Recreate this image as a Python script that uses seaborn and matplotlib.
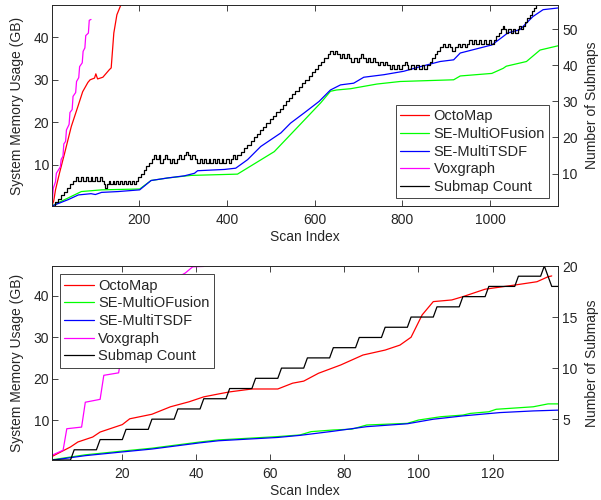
import numpy as np
import pandas as pd
import matplotlib
matplotlib.use("Agg")
import matplotlib.pyplot as plt
import seaborn as sns

# ---------------- data: top panel ----------------
top_octo_scan = [1, 5, 9, 18, 30, 45, 60, 71, 83, 88, 98, 101, 105, 117, 132, 136, 142, 149, 158, 170]
top_octo_gb = [0.4, 1.5, 4.1, 8.0, 12.8, 19.0, 23.7, 27.2, 29.4, 30.0, 30.4, 31.4, 30.2, 30.6, 32.4, 32.8, 41.0, 45.3, 47.6, 50.7]

top_ofus_scan = [1, 20, 38, 68, 114, 201, 227, 265, 318, 424, 508, 568, 614, 636, 650, 682, 742, 795, 917, 932, 1004, 1030, 1037, 1083, 1114, 1155]
top_ofus_gb = [0.3, 1.3, 2.2, 3.7, 4.1, 4.3, 6.3, 6.9, 7.5, 7.8, 13.1, 19.6, 24.6, 27.3, 27.6, 27.9, 29.0, 29.6, 30.0, 30.9, 31.5, 32.7, 33.2, 34.3, 37.0, 38.0]

top_tsdf_scan = [1, 38, 61, 90, 100, 114, 152, 201, 227, 265, 303, 326, 333, 394, 420, 447, 477, 500, 523, 545, 576, 610, 636, 659, 689, 712, 758, 803, 841, 886, 917, 932, 1004, 1030, 1040, 1068, 1098, 1121, 1155]
top_tsdf_gb = [0.3, 1.8, 2.9, 3.2, 3.0, 3.5, 3.7, 4.1, 6.3, 6.9, 7.4, 8.0, 8.6, 8.9, 9.2, 11.2, 14.3, 15.9, 17.5, 19.8, 22.2, 24.9, 27.6, 28.8, 29.2, 30.6, 31.2, 32.0, 33.1, 34.3, 34.7, 36.3, 38.2, 40.2, 41.0, 41.8, 44.9, 46.5, 46.9]

top_voxg_scan = [1, 4, 9, 11, 20, 22, 26, 28, 32, 34, 40, 42, 47, 49, 55, 57, 62, 64, 70, 72, 76, 78, 84, 86, 90]
top_voxg_gb = [0.4, 4.5, 6.0, 8.0, 9.5, 11.3, 12.0, 14.9, 15.5, 18.2, 19.5, 22.3, 23.0, 26.1, 27.0, 29.6, 30.5, 33.1, 34.0, 36.7, 37.5, 40.4, 41.0, 44.0, 44.2]

# submap count: scan where the count changes, and the new count
top_sub_scan = [1, 8, 15, 22, 29, 36, 43, 50,
                56, 61, 67, 72, 78, 83, 89, 93, 99, 104, 110, 115, 119, 122, 126, 130, 134, 139, 143, 148, 152, 157, 161, 166, 170, 175, 179, 184, 188,
                192, 198, 204, 210, 216, 222, 228,
                234, 239, 244, 248, 254, 259, 264, 270, 275, 280, 286, 291, 296, 302, 306, 311, 316, 321, 326, 332,
                338, 342, 348, 352, 358, 362, 368, 372, 378, 382, 388, 392, 398, 404, 409, 414, 418,
                424, 431, 439, 446, 454, 461, 468, 476, 483, 490, 498, 505, 512, 520, 527, 534, 542, 549, 556, 564, 571, 578, 586, 593, 600, 608, 615, 622, 630,
                636, 641, 646, 651, 657, 662, 668, 674, 679, 684, 690, 696, 701, 706, 711, 716, 722, 727, 733, 738, 744, 749, 755, 760, 766, 771, 777, 782, 788, 793, 800, 806, 810, 814, 820, 826, 832, 838, 844, 850,
                856, 862, 868, 874, 880, 886, 892, 897, 903, 908, 914, 920, 926, 931, 937, 942, 948, 953, 958, 964, 969, 975, 980, 986, 991, 997, 1002,
                1008, 1014, 1020, 1025, 1029, 1032, 1036, 1042, 1047, 1053, 1058, 1063, 1066, 1070, 1075, 1080, 1085, 1090, 1095, 1100, 1105, 1110, 1155]
top_sub_count = [1, 2, 3, 4, 5, 6, 7, 8,
                 9, 8, 9, 8, 9, 8, 9, 8, 9, 8, 9, 8, 7, 6, 7, 8, 7, 8, 7, 8, 7, 8, 7, 8, 7, 8, 7, 8, 7,
                 8, 9, 10, 11, 12, 13, 14,
                 15, 14, 15, 13, 14, 15, 14, 13, 14, 13, 14, 15, 14, 15, 16, 15, 14, 15, 14, 13,
                 14, 13, 14, 13, 14, 13, 14, 13, 14, 13, 14, 13, 14, 13, 14, 15, 14,
                 15, 16, 17, 18, 19, 20, 21, 22, 23, 24, 25, 26, 27, 28, 29, 30, 31, 32, 33, 34, 35, 36, 37, 38, 39, 40, 41, 42, 43,
                 44, 43, 44, 43, 42, 43, 42, 43, 42, 41, 42, 41, 42, 43, 42, 41, 42, 41, 42, 41, 40, 41, 40, 41, 40, 39, 40, 39, 40, 39, 40, 41, 40, 39, 40, 39, 40, 39, 40, 39,
                 40, 41, 42, 43, 44, 45, 46, 45, 46, 45, 44, 45, 46, 45, 46, 45, 46, 47, 46, 47, 46, 47, 46, 47, 46, 47, 46,
                 47, 48, 49, 50, 51, 50, 49, 50, 49, 50, 49, 50, 51, 50, 51, 52, 53, 54, 55, 56, 57, 58, 58]

# ---------------- data: bottom panel ----------------
bot_octo_scan = [1, 6, 8, 12, 14, 20, 22, 28, 33, 38, 42, 46, 49, 55, 62, 66, 69, 73, 79, 85, 91, 95, 98, 101, 104, 109, 112, 118, 126, 132, 135, 136]
bot_octo_gb = [1.2, 3.5, 4.7, 5.9, 7.1, 8.9, 10.3, 11.4, 13.2, 14.4, 15.6, 16.3, 16.8, 17.5, 17.5, 18.9, 19.4, 21.3, 23.3, 25.7, 26.9, 28.1, 30.0, 35.4, 38.6, 39.0, 39.8, 41.6, 42.6, 43.4, 44.6, 44.8]

bot_ofus_scan = [1, 10, 20, 28, 41, 46, 62, 68, 71, 77, 82, 86, 97, 100, 106, 112, 114, 119, 121, 131, 135, 138]
bot_ofus_gb = [0.4, 1.6, 2.5, 3.2, 4.7, 5.2, 6.0, 6.4, 7.2, 7.6, 7.8, 8.8, 9.2, 10.0, 10.8, 11.2, 11.6, 12.0, 12.6, 13.2, 13.9, 13.9]

bot_tsdf_scan = [1, 10, 20, 28, 41, 46, 62, 68, 77, 86, 97, 104, 112, 122, 131, 138]
bot_tsdf_gb = [0.3, 1.4, 2.3, 3.0, 4.5, 5.0, 5.8, 6.3, 7.3, 8.4, 9.1, 10.2, 11.0, 11.8, 12.2, 12.4]

bot_voxg_scan = [1, 4, 5, 9, 10, 14, 15, 19, 20, 24, 25, 29, 30, 34, 35, 37, 39, 42, 43]
bot_voxg_gb = [1.5, 2.7, 7.9, 8.3, 14.3, 15.0, 20.8, 21.4, 27.0, 27.5, 33.0, 33.5, 39.0, 39.5, 44.5, 45.5, 47.0, 47.1, 53.0]

bot_sub_scan = [1, 6, 7, 13, 14, 20, 21, 27, 28, 34, 35, 41, 42, 48, 49, 55, 56, 62, 63, 69, 70, 76, 77, 83, 84, 90, 91, 97, 98, 104, 105, 111, 112, 118, 119, 126, 127, 133, 134, 136, 138]
bot_sub_count = [1, 1, 2, 2, 3, 3, 4, 4, 5, 5, 6, 6, 7, 7, 8, 8, 9, 9, 10, 10, 11, 11, 12, 12, 13, 13, 14, 14, 15, 15, 16, 16, 17, 17, 18, 18, 19, 19, 20, 18, 18]

labels = ["OctoMap", "SE-MultiOFusion", "SE-MultiTSDF", "Voxgraph", "Submap Count"]
colors = ["#ff0000", "#00ff00", "#0000ff", "#ff00ff", "#000000"]

# ---------------- style ----------------
sns.set_style("white")
plt.rcParams["font.family"] = ["Liberation Sans", "DejaVu Sans"]
plt.rcParams["font.size"] = 10
AX_COL = "#262626"

fig = plt.figure(figsize=(6.01, 5.0), dpi=100)
LW = 0.9


def style_axes(ax, axr):
    for a in (ax, axr):
        for s in a.spines.values():
            s.set_color(AX_COL)
            s.set_linewidth(0.6)
            s.set_visible(True)
    ax.tick_params(axis="x", which="both", direction="in", top=True, bottom=True,
                   length=4, width=0.6, color=AX_COL, labelcolor=AX_COL, pad=5, labelsize=10)
    ax.tick_params(axis="y", which="both", direction="in", left=True, right=False,
                   length=4, width=0.6, color=AX_COL, labelcolor=AX_COL, pad=2, labelsize=10)
    axr.tick_params(axis="y", which="both", direction="in", right=True, left=False,
                    length=4, width=0.6, color=AX_COL, labelcolor=AX_COL, pad=3, labelsize=10)
    ax.set_xlabel("Scan Index", color=AX_COL, fontsize=10, labelpad=2)
    ax.set_ylabel("System Memory Usage (GB)", color=AX_COL, fontsize=10, labelpad=7)
    axr.set_ylabel("Number of Submaps", color=AX_COL, fontsize=10, labelpad=5)
    ax.grid(False)
    axr.grid(False)


def draw(ax, axr, series, sub, xlim, ylim, ylimr, xt, yt, ytr, legend_kw):
    for (sx, sy), lab, col in zip(series, labels[:4], colors[:4]):
        sns.lineplot(x=sx, y=sy, ax=ax, color=col, linewidth=LW, label=lab,
                     estimator=None, sort=False, legend=False)
    sx, sy, ds = sub
    sns.lineplot(x=sx, y=sy, ax=axr, color=colors[4], linewidth=LW, label=labels[4],
                 estimator=None, sort=False, legend=False, drawstyle=ds)
    ax.set_xlim(*xlim)
    ax.set_ylim(*ylim)
    axr.set_ylim(*ylimr)
    ax.set_xticks(xt)
    ax.set_yticks(yt)
    axr.set_yticks(ytr)
    style_axes(ax, axr)
    h1, l1 = ax.get_legend_handles_labels()
    h2, l2 = axr.get_legend_handles_labels()
    leg = axr.legend(h1 + h2, l1 + l2, fancybox=False, framealpha=1, borderaxespad=0,
                     handlelength=2.0, handletextpad=0.3, labelspacing=0.25, borderpad=0.3,
                     fontsize=10.5, **legend_kw)
    leg.get_frame().set_edgecolor(AX_COL)
    leg.get_frame().set_linewidth(0.6)


# top panel
ax1 = fig.add_axes([0.0865, 0.588, 0.842, 0.402])
ax1r = ax1.twinx()
draw(ax1, ax1r,
     [(top_octo_scan, top_octo_gb), (top_ofus_scan, top_ofus_gb),
      (top_tsdf_scan, top_tsdf_gb), (top_voxg_scan, top_voxg_gb)],
     (top_sub_scan, top_sub_count, "steps-post"),
     (1, 1155), (0.3, 47.6), (1, 56.7),
     [200, 400, 600, 800, 1000], [10, 20, 30, 40], [10, 20, 30, 40, 50],
     dict(loc="lower right", bbox_to_anchor=(0.983, 0.038)))

# bottom panel
ax2 = fig.add_axes([0.0865, 0.08, 0.842, 0.388])
ax2r = ax2.twinx()
draw(ax2, ax2r,
     [(bot_octo_scan, bot_octo_gb), (bot_ofus_scan, bot_ofus_gb),
      (bot_tsdf_scan, bot_tsdf_gb), (bot_voxg_scan, bot_voxg_gb)],
     (bot_sub_scan, bot_sub_count, "default"),
     (1, 137.7), (0.35, 47.2), (1, 20),
     [20, 40, 60, 80, 100, 120], [10, 20, 30, 40], [5, 10, 15, 20],
     dict(loc="upper left", bbox_to_anchor=(0.0158, 0.957)))

fig.savefig("out.png", dpi=100)
